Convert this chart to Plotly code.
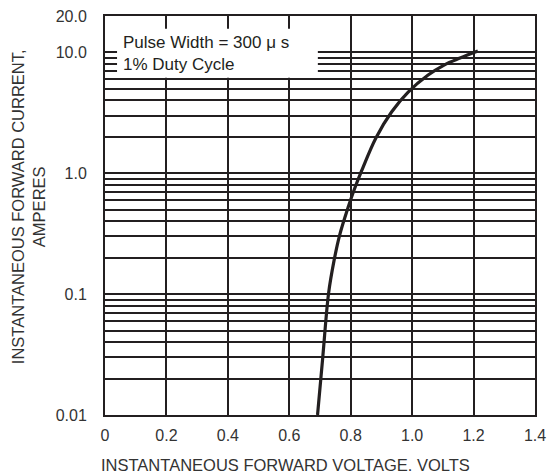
import plotly.graph_objects as go

# Curve (forward voltage V, forward current A)
voltage = [0.692, 0.709, 0.728, 0.746, 0.764, 0.793, 0.811, 0.835,
           0.882, 0.933, 0.987, 1.052, 1.104, 1.156, 1.214]
current = [0.010, 0.030, 0.102, 0.191, 0.308, 0.535, 0.726, 1.04,
           1.96, 3.21, 4.69, 6.49, 7.85, 8.97, 10.25]

x_ticks = [0, 0.2, 0.4, 0.6, 0.8, 1.0, 1.2, 1.4]
x_tick_text = ["0", "0.2", "0.4", "0.6", "0.8", "1.0", "1.2", "1.4"]
y_ticks = [0.01, 0.1, 1, 10, 20]
y_tick_text = ["0.01", "0.1", "1.0", "10.0", "20.0"]
y_minor = [m * d for d in (0.01, 0.1, 1) for m in range(2, 10)] + [0.1, 1, 10]

INK = "#231f20"
TXT = "#333333"
FONT = "Liberation Sans, Arial, sans-serif"

fig = go.Figure()
fig.add_trace(go.Scatter(x=voltage, y=current, mode="lines",
                         line=dict(color=INK, width=3.2, shape="spline", smoothing=1.0),
                         hoverinfo="skip", showlegend=False))

fig.update_layout(
    width=549, height=475,
    margin=dict(l=105, r=14, t=16, b=60, pad=0),
    paper_bgcolor="white", plot_bgcolor="white",
    font=dict(family=FONT, color=TXT, size=16),
    xaxis=dict(range=[0, 1.4], tickvals=x_ticks, ticktext=x_tick_text,
               showgrid=True, gridcolor=INK, gridwidth=1.6, automargin=False,
               showline=True, linecolor=INK, linewidth=2, mirror=True,
               zeroline=False, ticks="", ticklabelstandoff=5,
               tickfont=dict(size=16, color=TXT)),
    yaxis=dict(type="log", range=[-2, 1.30103], tickvals=y_ticks, ticktext=y_tick_text,
               showgrid=False, automargin=False,
               showline=True, linecolor=INK, linewidth=2, mirror=True,
               zeroline=False, ticks="", ticklabelstandoff=13,
               tickfont=dict(size=16, color=TXT),
               minor=dict(tickvals=y_minor, showgrid=True, gridcolor=INK,
                          gridwidth=1.6, ticks="")),
    shapes=[dict(type="rect", xref="paper", yref="paper",
                 x0=0.028, x1=0.495, y0=0.845, y1=0.968,
                 fillcolor="white", line=dict(width=0), layer="above")],
    annotations=[
        dict(text="Pulse Width = 300 \u03bc s<br>1% Duty Cycle", xref="paper", yref="paper",
             x=0.038, y=0.907, xanchor="left", yanchor="middle", align="left",
             showarrow=False, font=dict(size=17, color=INK, family=FONT)),
        dict(text="INSTANTANEOUS FORWARD VOLTAGE. VOLTS", xref="paper", yref="paper",
             x=0.419, y=-0.125, xanchor="center", yanchor="middle",
             showarrow=False, font=dict(size=16.5, color=TXT, family=FONT)),
        dict(text="INSTANTANEOUS FORWARD CURRENT,<br>AMPERES", xref="paper", yref="paper",
             x=-0.179, y=0.521, xanchor="center", yanchor="middle", textangle=-90,
             showarrow=False, font=dict(size=16.5, color=TXT, family=FONT)),
    ],
)

# Remove the default page margin so the figure fills the window exactly.
fig.write_html("out.html", config={"displayModeBar": False},
               post_script="document.body.style.margin='0';document.body.style.overflow='hidden';")
